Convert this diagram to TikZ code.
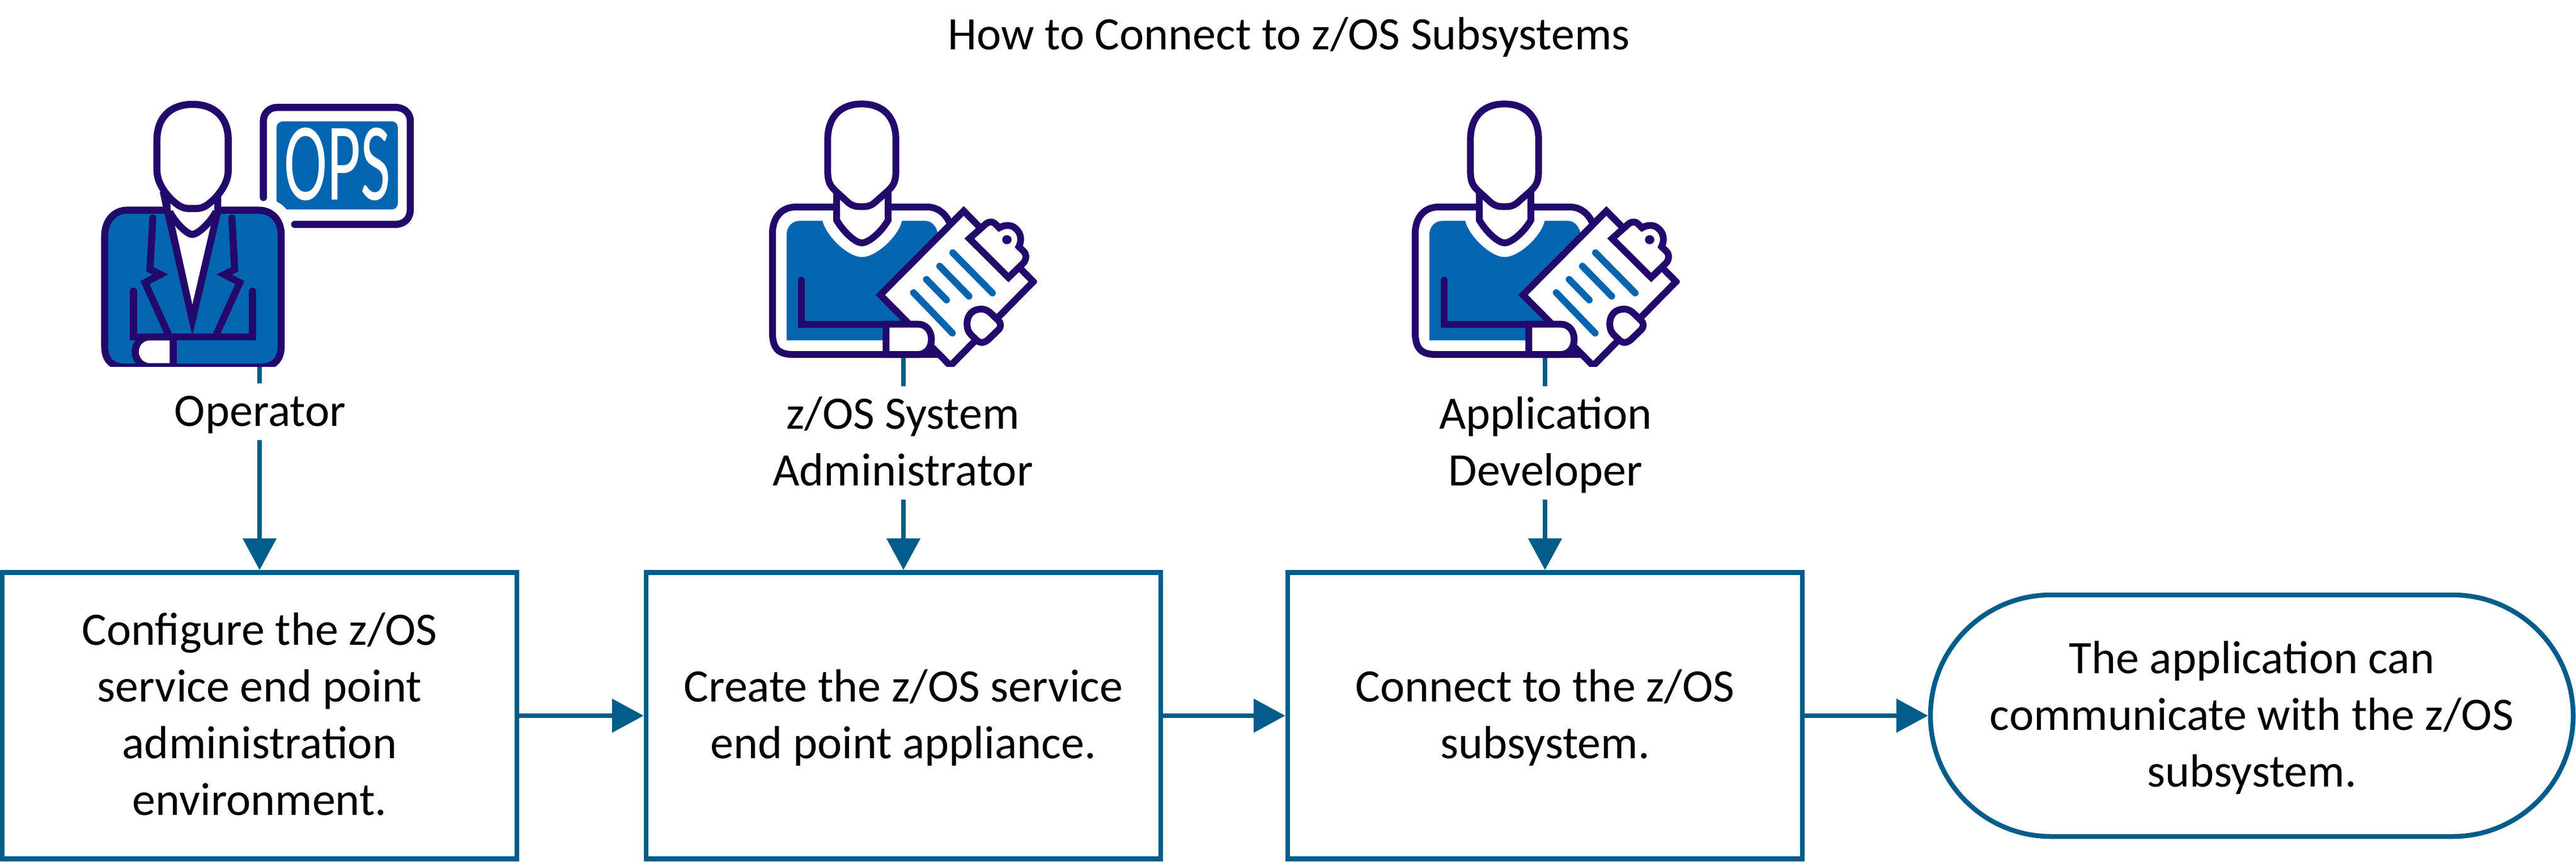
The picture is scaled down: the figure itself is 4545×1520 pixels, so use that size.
\documentclass[tikz,border=0pt]{standalone}
\usepackage{fontspec}
\setmainfont{Carlito}
\usetikzlibrary{arrows.meta}
\definecolor{flow}{HTML}{005C89}
\definecolor{ink}{HTML}{22096B}
\definecolor{cloth}{HTML}{0365B0}
\newcommand\lsk{\rule[-12.5pt]{0pt}{50pt}}
\newcommand\clerkicon[1]{%
\begin{scope}[shift={(#1,150)},x=0.17241pt,y=-0.16667pt,line width=6pt,draw=ink,line join=miter]
\clip (0,0) rectangle (1478,1490);
\draw (1032,730) .. controls (1010,680) and (970,645) .. (915,645) -- (245,645) .. controls (170,645) and (124,700) .. (124,790) -- (124,1300) .. controls (124,1390) and (150,1425) .. (230,1425) -- (975,1425);
\fill[cloth] (197,1350) -- (197,790) .. controls (197,750) and (225,718) .. (265,718) -- (380,718) .. controls (400,800) and (510,910) .. (582,910) .. controls (655,910) and (770,800) .. (787,718) -- (905,718) .. controls (940,718) and (965,750) .. (970,785) -- (970,1000) -- (850,1350) -- cycle;
\draw[fill=white] (453,560) -- (453,715) .. controls (490,780) and (550,835) .. (582,835) .. controls (615,835) and (680,780) .. (716,715) -- (716,560);
\draw[fill=white] (407,290) .. controls (407,170) and (470,100) .. (581,100) .. controls (692,100) and (756,170) .. (756,290) -- (756,450) .. controls (756,510) and (745,530) .. (715,560) -- (655,615) .. controls (635,635) and (615,643) .. (590,643) -- (572,643) .. controls (545,643) and (525,635) .. (505,615) -- (447,560) .. controls (417,530) and (407,510) .. (407,450) -- cycle;
\draw[line cap=round] (273,1032) -- (273,1265) -- (870,1265);
\draw[fill=white] (676,1110) -- (1103,666) -- (1459,1040) -- (1035,1485) -- cycle;
\draw[fill=white] (1332,1018) -- (1132,812) -- (1205,745) .. controls (1225,722) and (1250,715) .. (1270,740) -- (1285,755) .. controls (1310,740) and (1345,735) .. (1370,760) .. controls (1398,785) and (1400,825) .. (1385,855) -- (1410,880) .. controls (1425,895) and (1425,925) .. (1405,945) -- cycle;
\fill[ink] (1324,818) circle [radius=24];
\draw[cloth,line cap=round] (1047,887) -- (1250,1100) (980,958) -- (1130,1117) (912,1028) -- (1015,1137) (846,1098) -- (1045,1312);
\draw[fill=white] (1120,1262) .. controls (1120,1215) and (1150,1185) .. (1192,1185) .. controls (1215,1185) and (1230,1195) .. (1245,1210) -- (1280,1245) .. controls (1295,1260) and (1295,1280) .. (1280,1295) -- (1235,1340) .. controls (1215,1362) and (1190,1370) .. (1170,1350) -- (1140,1320) .. controls (1125,1305) and (1120,1285) .. (1120,1262) -- cycle;
\draw[fill=white] (706,1265) -- (870,1265) .. controls (910,1265) and (938,1300) .. (938,1345) .. controls (938,1390) and (910,1425) .. (870,1425) -- (706,1425) -- cycle;
\end{scope}}
\tikzset{
  txt/.style={font=\fontsize{41}{50}\selectfont,align=center,inner sep=0pt,text=black},
  stepbox/.style={txt,draw=flow,fill=white,line width=4.25pt,minimum width=454pt,minimum height=252.5pt},
  endbox/.style={txt,draw=flow,fill=white,line width=4.25pt,minimum width=567pt,minimum height=213pt,rounded corners=106.4pt},
  rolelabel/.style={txt,fill=white},
  conn/.style={draw=flow,line width=4.25pt,-{Triangle[length=28pt,width=29pt,sep=0pt]}}
}
\begin{document}
\begin{tikzpicture}[x=0.5pt,y=-0.5pt]
\useasboundingbox (0,0) rectangle (4545,1520);
\node[txt] (title) at (2274,63) {\lsk How to Connect to z/OS Subsystems};
\node[stepbox] (box1) at (458,1262) {\lsk Configure the z/OS\\\lsk service end point\\\lsk administration\\\lsk environment.};
\node[stepbox] (box2) at (1594,1262) {\lsk Create the z/OS service\\\lsk end point appliance.};
\node[stepbox] (box3) at (2726,1262) {\lsk Connect to the z/OS\\\lsk subsystem.};
\node[endbox] (box4) at (3973,1262) {\lsk The application can\\\lsk communicate with the z/OS\\\lsk subsystem.};
\coordinate (opfoot) at (458,640);
\coordinate (adfoot) at (1594,625);
\coordinate (devfoot) at (2726,625);
\draw[conn] (opfoot) -- (box1.north);
\draw[conn] (adfoot) -- (box2.north);
\draw[conn] (devfoot) -- (box3.north);
\draw[conn] (box1.east) -- (box2.west);
\draw[conn] (box2.east) -- (box3.west);
\draw[conn] (box3.east) -- (box4.west);
\node[rolelabel] (oplabel) at (459,726) {\lsk Operator};
\node[rolelabel] (adlabel) at (1593,781) {\lsk z/OS System\\\lsk Administrator};
\node[rolelabel] (devlabel) at (2727,781) {\lsk Application\\\lsk Developer};
% operator icon
\begin{scope}[shift={(130,150)},x=0.20408pt,y=-0.16667pt,line width=6.25pt,draw=ink]
\clip (0,0) rectangle (1568,1488);
\draw[fill=cloth] (134,800) .. controls (134,710) and (180,662) .. (230,662) -- (800,662) .. controls (860,662) and (897,720) .. (897,790) -- (897,1380) .. controls (897,1460) and (860,1490) .. (810,1492) -- (220,1492) .. controls (160,1490) and (134,1450) .. (134,1380) -- cycle;
\fill[ink] (372,565) -- (385,640) -- (393,683) -- (510,1312) -- (516,1312) -- (635,683) -- (638,640) -- (638,590) -- (640,560) -- cycle;
\fill[white] (418,625) -- (608,625) -- (608,660) -- (590,755) -- (513,1160) -- (440,755) -- (420,660) -- cycle;
\draw (415,670) .. controls (440,730) and (490,790) .. (513,790) .. controls (536,790) and (590,730) .. (615,670);
\draw[fill=white] (360,290) .. controls (360,170) and (420,102) .. (514,102) .. controls (608,102) and (668,170) .. (668,290) -- (668,450) .. controls (668,510) and (640,560) .. (610,600) .. controls (580,635) and (560,653) .. (530,653) -- (498,653) .. controls (468,653) and (448,635) .. (418,600) .. controls (388,560) and (360,510) .. (360,450) -- cycle;
\draw[line cap=round] (342,703) -- (330,975) -- (375,1002) -- (308,1045) -- (408,1315);
\draw[line cap=round] (684,703) -- (696,975) -- (651,1002) -- (718,1045) -- (618,1315);
\draw[line cap=round] (258,1090) -- (258,1332) -- (773,1332) -- (773,1090);
\draw[fill=white] (430,1332) -- (330,1332) .. controls (290,1332) and (266,1370) .. (266,1410) .. controls (266,1450) and (290,1490) .. (330,1490) -- (430,1490) -- cycle;
\draw[line cap=round] (820,595) -- (820,190) .. controls (820,150) and (845,118) .. (880,118) -- (1390,118) .. controls (1430,118) and (1455,150) .. (1455,190) -- (1455,660) .. controls (1455,705) and (1430,737) .. (1390,737) -- (955,737);
\fill[cloth] (877,222) .. controls (877,205) and (890,192) .. (905,192) -- (1375,192) .. controls (1390,192) and (1401,205) .. (1401,225) -- (1401,625) .. controls (1401,645) and (1390,658) .. (1375,658) -- (920,658) .. controls (910,640) and (895,628) .. (877,615) -- cycle;
\node[font=\fontsize{98}{98}\selectfont,text=white,inner sep=0pt,xscale=.585,transform shape] (ops) at (1141,420) {OPS};
\end{scope}
\clerkicon{1320}
\clerkicon{2454}
\end{tikzpicture}
\end{document}
